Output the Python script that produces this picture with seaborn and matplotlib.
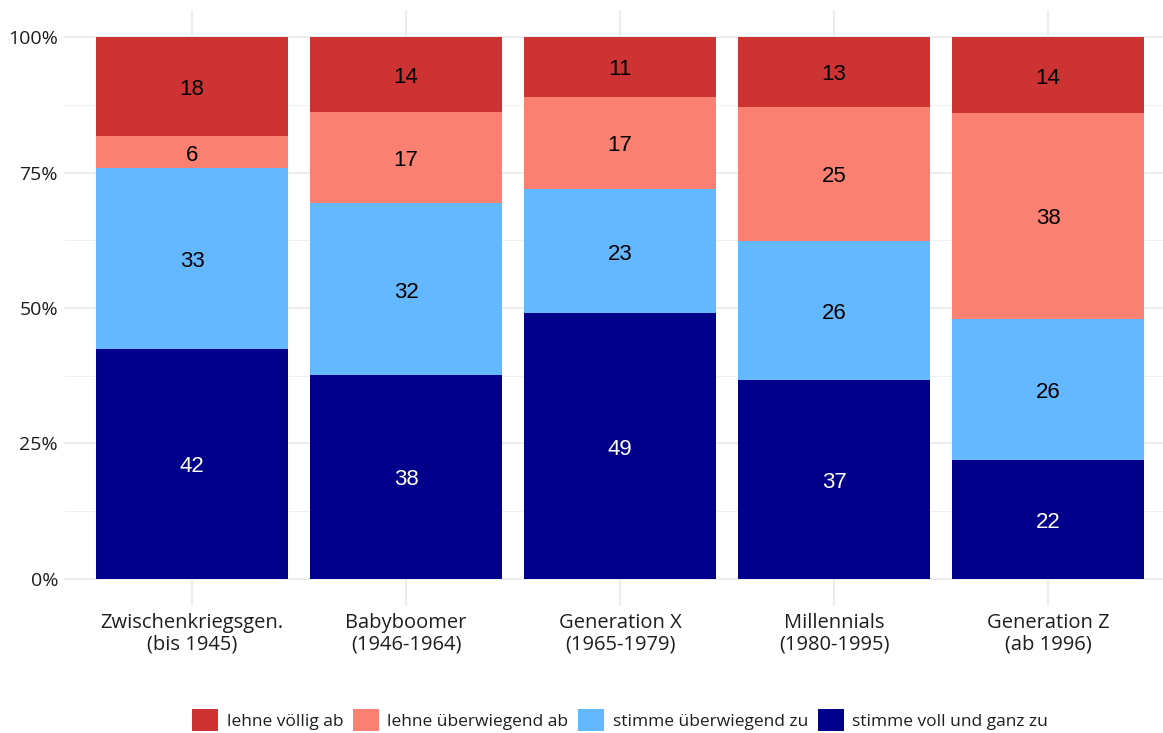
import numpy as np
import pandas as pd
import matplotlib
matplotlib.use("Agg")
import matplotlib.pyplot as plt
from matplotlib.patches import Patch
from matplotlib.ticker import FixedLocator
from matplotlib.transforms import ScaledTranslation
import seaborn as sns

# Survey shares per generation (percent, as labelled)
generations = ["Zwischenkriegsgen.\n(bis 1945)", "Babyboomer\n(1946-1964)",
               "Generation X\n(1965-1979)", "Millennials\n(1980-1995)",
               "Generation Z\n(ab 1996)"]
voll_zu = [42, 38, 49, 37, 22]          # stimme voll und ganz zu
eher_zu = [33, 32, 23, 26, 26]          # stimme überwiegend zu
eher_ab = [6, 17, 17, 25, 38]           # lehne überwiegend ab
voellig_ab = [18, 14, 11, 13, 14]       # lehne völlig ab

responses = ["lehne völlig ab", "lehne überwiegend ab",
             "stimme überwiegend zu", "stimme voll und ganz zu"]
colors = {"lehne völlig ab": "#CD3333", "lehne überwiegend ab": "#FA8072",
          "stimme überwiegend zu": "#63B8FF", "stimme voll und ganz zu": "#00008B"}

sns.set_theme(style="white")
plt.rcParams["font.family"] = ["Open Sans", "DejaVu Sans"]

# stacking from bottom to top, normalised to 100 %
stack = [("stimme voll und ganz zu", voll_zu), ("stimme überwiegend zu", eher_zu),
         ("lehne überwiegend ab", eher_ab), ("lehne völlig ab", voellig_ab)]
vals = np.array([v for _, v in stack], dtype=float)
share = vals / vals.sum(axis=0) * 100
cum = np.cumsum(share, axis=0)

fig = plt.figure(figsize=(11.63, 7.33), dpi=100)
ax = fig.add_axes([63.6 / 1163, 1 - 606 / 733, 1 - 63.6 / 1163, (606 - 10) / 733])

# draw cumulative layers top-down so lower segments overlay higher ones
for i in range(len(stack) - 1, -1, -1):
    name = stack[i][0]
    df = pd.DataFrame({"gen": generations, "top": cum[i]})
    sns.barplot(data=df, x="gen", y="top", order=generations, color=colors[name],
                width=0.9, saturation=1, linewidth=0, ax=ax, zorder=2)

# segment labels, nudged slightly down so digits sit optically centred
nudge = ax.transData + ScaledTranslation(0, -3 / 100, fig.dpi_scale_trans)
for i, (name, raw) in enumerate(stack):
    bottom = cum[i - 1] if i > 0 else np.zeros(len(generations))
    mid = (bottom + cum[i]) / 2
    tcol = "white" if name == "stimme voll und ganz zu" else "black"
    for j, v in enumerate(raw):
        ax.text(j, mid[j], f"{v}", ha="center", va="center", color=tcol,
                fontsize=16, family=["Liberation Sans", "DejaVu Sans"],
                transform=nudge, zorder=3)

ax.set_xlim(-0.6, 4.537)
ax.set_ylim(-5, 105)
ax.set_yticks([0, 25, 50, 75, 100])
ax.set_yticklabels(["0%", "25%", "50%", "75%", "100%"])
ax.yaxis.set_minor_locator(FixedLocator([12.5, 37.5, 62.5, 87.5]))
ax.set_xlabel("")
ax.set_ylabel("")
for s in ax.spines.values():
    s.set_visible(False)
ax.grid(True, which="major", color="#E8E8E8", linewidth=1.1, zorder=0)
ax.grid(True, which="minor", axis="y", color="#F0F0F0", linewidth=0.7, zorder=0)
ax.set_axisbelow(True)
ax.tick_params(axis="both", which="both", length=0)
ax.tick_params(axis="x", labelsize=14.5, pad=5, labelcolor="#1E1E1E")
ax.tick_params(axis="y", labelsize=14, pad=4, labelcolor="#1E1E1E")
for lab in ax.get_xticklabels():
    lab.set_linespacing(1.12)

handles = [Patch(facecolor=colors[r], edgecolor="none") for r in responses]
fig.legend(handles, responses, loc="lower center", ncol=4, frameon=False,
           bbox_to_anchor=(620 / 1163, -0.018), fontsize=12.5,
           handlelength=1.5, handleheight=1.5, handletextpad=0.5,
           columnspacing=0.55, labelcolor="#1E1E1E")

fig.savefig("out.png", dpi=100)
